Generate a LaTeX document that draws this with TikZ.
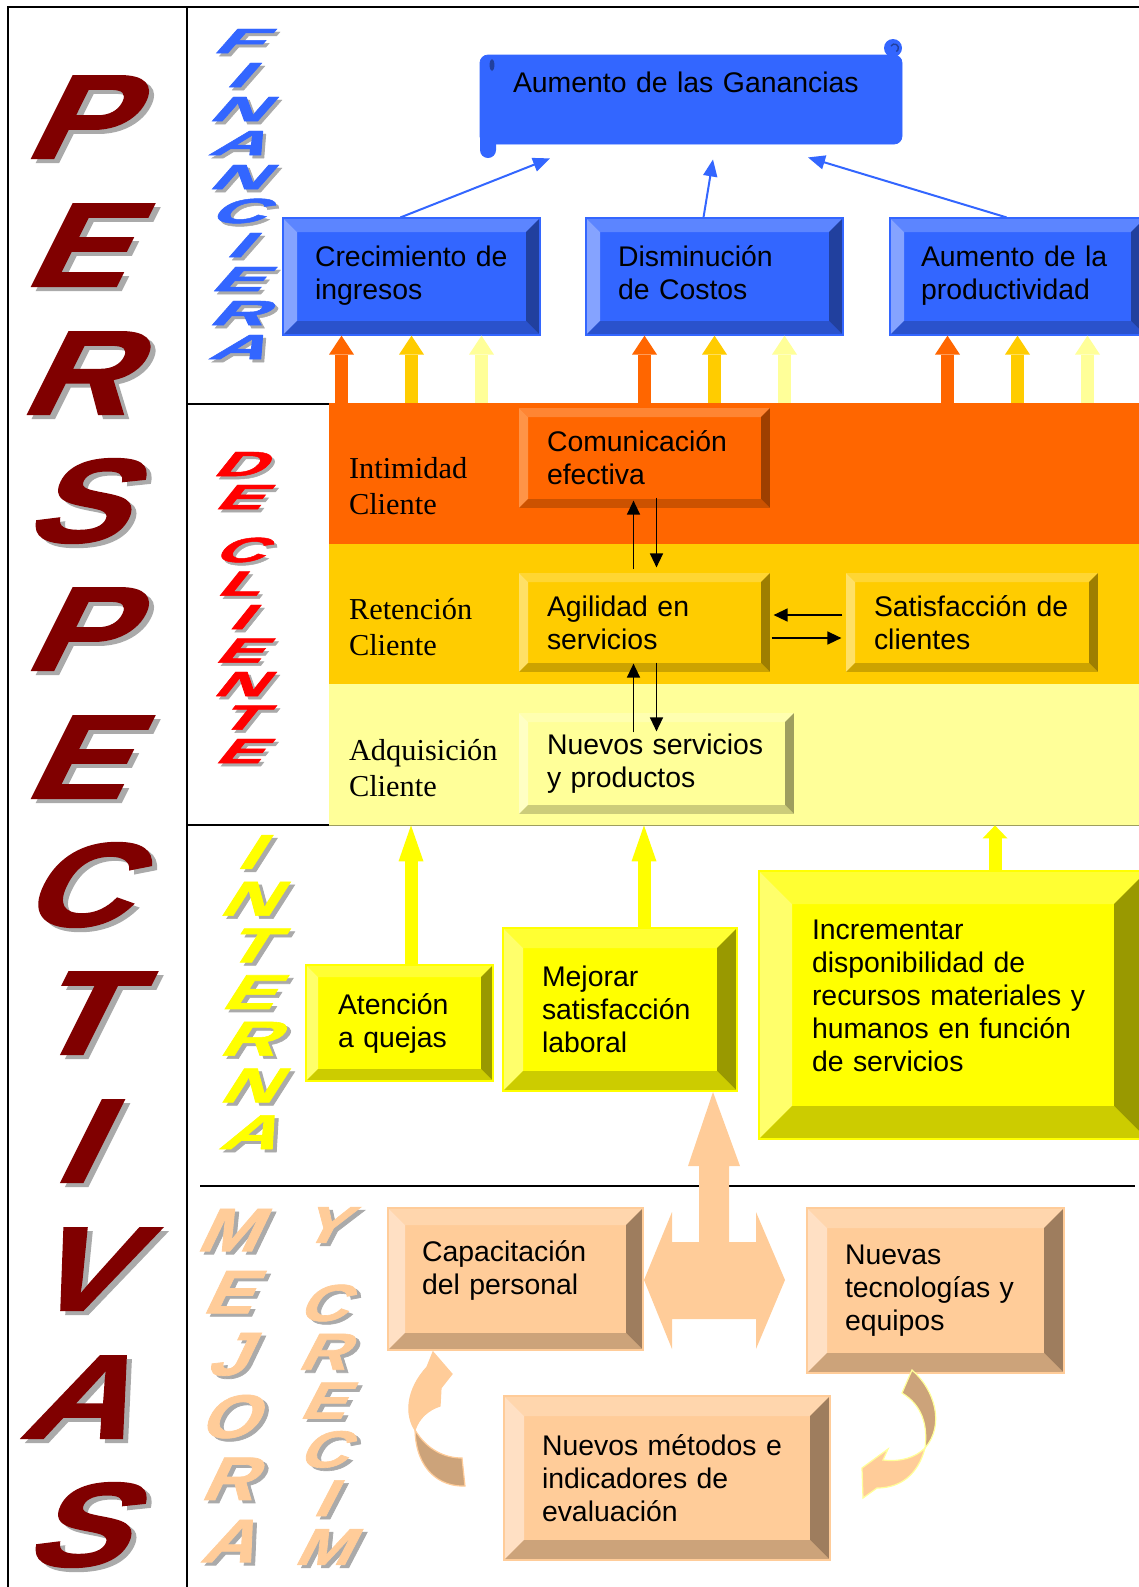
\documentclass[tikz,border=0pt]{standalone}
\usepackage{fontspec}
\usepackage{graphicx}
\usetikzlibrary{arrows.meta}
\newfontfamily\boxfont{Liberation Sans}
\newfontfamily\bandfont{Liberation Serif}
\newfontfamily\artfont{Liberation Sans}[FakeSlant=0.4,BoldFeatures={FakeSlant=0.4,FakeBold=1.2}]

\definecolor{finBlue}{RGB}{51,102,255}
\definecolor{blueTop}{RGB}{92,133,255}
\definecolor{blueLeft}{RGB}{133,163,255}
\definecolor{blueRight}{RGB}{33,64,158}
\definecolor{blueBot}{RGB}{42,82,204}
\definecolor{bandOrange}{RGB}{255,102,0}
\definecolor{orangeTop}{RGB}{255,133,51}
\definecolor{orangeLeft}{RGB}{255,148,71}
\definecolor{orangeRight}{RGB}{158,63,0}
\definecolor{orangeBot}{RGB}{204,82,0}
\definecolor{bandGold}{RGB}{255,204,0}
\definecolor{goldTop}{RGB}{255,214,51}
\definecolor{goldLeft}{RGB}{255,224,102}
\definecolor{goldRight}{RGB}{158,126,0}
\definecolor{goldBot}{RGB}{204,163,0}
\definecolor{bandLight}{RGB}{255,255,153}
\definecolor{lightTop}{RGB}{255,255,176}
\definecolor{lightLeft}{RGB}{255,255,196}
\definecolor{lightRight}{RGB}{158,158,94}
\definecolor{lightBot}{RGB}{204,204,122}
\definecolor{intYel}{RGB}{255,255,0}
\definecolor{yelTop}{RGB}{255,255,51}
\definecolor{yelLeft}{RGB}{255,255,107}
\definecolor{yelRight}{RGB}{153,153,0}
\definecolor{yelBot}{RGB}{204,204,0}
\definecolor{peachBase}{RGB}{255,204,153}
\definecolor{peachTop}{RGB}{255,214,173}
\definecolor{peachLeft}{RGB}{255,224,196}
\definecolor{peachRight}{RGB}{158,125,94}
\definecolor{peachBot}{RGB}{204,163,122}
\definecolor{persRed}{RGB}{128,0,0}
\definecolor{cliRed}{RGB}{255,0,0}
\definecolor{shadowGray}{RGB}{170,170,170}

\tikzset{
  bevel size/.store in=\bevw, bevel size=5pt,
  bevbox/.style n args={5}{rectangle, fill=#1, draw=#1, line width=0.6pt, inner ysep=0pt, align=left,
    text=black, font=\boxfont\fontsize{14.2}{16.5}\selectfont,
    path picture={
      \path (path picture bounding box.north west) coordinate (bnw)
            (path picture bounding box.south east) coordinate (bse);
      \path (bnw -| bse) coordinate (bne) (bnw |- bse) coordinate (bsw);
      \fill[#2] (bnw) -- (bne) -- ([shift={(-\bevw,-\bevw)}]bne) -- ([shift={(\bevw,-\bevw)}]bnw) -- cycle;
      \fill[#3] (bnw) -- (bsw) -- ([shift={(\bevw,\bevw)}]bsw) -- ([shift={(\bevw,-\bevw)}]bnw) -- cycle;
      \fill[#4] (bne) -- (bse) -- ([shift={(-\bevw,\bevw)}]bse) -- ([shift={(-\bevw,-\bevw)}]bne) -- cycle;
      \fill[#5] (bsw) -- (bse) -- ([shift={(-\bevw,\bevw)}]bse) -- ([shift={(\bevw,\bevw)}]bsw) -- cycle;
    }},
  blueBox/.style={bevbox={finBlue}{blueTop}{blueLeft}{blueRight}{blueBot}, bevel size=7pt},
  orangeBox/.style={bevbox={bandOrange}{orangeTop}{orangeLeft}{orangeRight}{orangeBot}, bevel size=5pt},
  goldBox/.style={bevbox={bandGold}{goldTop}{goldLeft}{goldRight}{goldBot}, bevel size=5pt},
  lightBox/.style={bevbox={bandLight}{lightTop}{lightLeft}{lightRight}{lightBot}, bevel size=5pt},
  yelBox/.style={bevbox={intYel}{yelTop}{yelLeft}{yelRight}{yelBot}},
  peachBox/.style={bevbox={peachBase}{peachTop}{peachLeft}{peachRight}{peachBot}},
  band/.style={rectangle, minimum width=405pt, inner sep=0pt, fill=#1},
  bandtxt/.style={inner sep=0pt, align=left, anchor=west, font=\bandfont\fontsize{15.2}{18}\selectfont},
  banner/.style={rectangle, rounded corners=4pt, fill=finBlue, draw=finBlue, minimum width=211pt,
    minimum height=44.5pt, inner ysep=0pt, inner xsep=16.5pt, text width=178pt, align=left,
    font=\boxfont\fontsize{14.2}{16.5}\selectfont},
  fatup/.style={line width=6.5pt, draw=#1, -{Triangle[length=9.5pt,width=12.5pt,line width=0pt]}},
  bluearr/.style={draw=finBlue, line width=1pt, -{Triangle[length=8.5pt,width=7pt]}},
  blk/.style={line width=0.7pt, -{Triangle[length=7pt,width=6.5pt]}},
  frame/.style={line width=1pt},
  art/.style={inner sep=0pt, font=\artfont\bfseries\fontsize{#1}{#1}\selectfont},
}

\begin{document}
\begin{tikzpicture}[x=0.5pt, y=-0.5pt]
\useasboundingbox (0,0) rectangle (1139,1587);

% frame
\draw[frame] (7,7) -- (1139,7);
\draw[frame] (8,7) -- (8,1587);
\draw[frame] (187,7) -- (187,1587);
\draw[frame] (187,404) -- (329,404);
\draw[frame] (187,825) -- (329,825);
\draw[frame] (200,1186) -- (1135,1186);

% perspectiva de cliente
\node[band=bandOrange, minimum height=70.5pt] (intim) at (734,473.5) {};
\node[band=bandGold, minimum height=70pt] (reten) at (734,614) {};
\node[band=bandLight, minimum height=70.5pt] (adqui) at (734,754.5) {};
\draw[lightRight, line width=0.6pt] (adqui.south west) -- (adqui.south east);
\node[bandtxt] (intimtxt) at ([shift={(20,13)}]intim.west) {Intimidad\\Cliente};
\node[bandtxt] (retentxt) at ([shift={(20,13.5)}]reten.west) {Retención\\Cliente};
\node[bandtxt] (adquitxt) at ([shift={(20,14)}]adqui.west) {Adquisición\\Cliente};

% perspectiva financiera
\node[banner] (gain) at (691,99.5) {Aumento de las Ganancias\\[1pt]\mbox{}};
\fill[finBlue] (893,48) circle[radius=4.5pt];
\draw[blueRight, line width=0.7pt] (891,46) arc[start angle=150, end angle=-60, radius=2pt];
\fill[finBlue, rounded corners=4pt] (480,130) rectangle (496,158);
\fill[blueRight] (492,65) ellipse[x radius=1.2pt, y radius=3pt];
\coordinate (gainL) at ([shift={(-141,14)}]gain.south);
\coordinate (gainM) at ([shift={(22,15)}]gain.south);
\coordinate (gainR) at ([shift={(117,13)}]gain.south);

\node[blueBox, minimum width=128.5pt, minimum height=58.5pt, inner xsep=16pt, text width=96.5pt] (crec) at (411.5,276.5) {Crecimiento de\\ingresos\\[-13pt]\mbox{}};
\node[blueBox, minimum width=128.5pt, minimum height=58.5pt, inner xsep=16pt, text width=96.5pt] (dism) at (714.5,276.5) {Disminución\\de Costos\\[-13pt]\mbox{}};
\node[blueBox, minimum width=127.5pt, minimum height=58.5pt, inner xsep=15.5pt, text width=96.5pt] (prod) at (1017.5,276.5) {Aumento de la\\productividad\\[-13pt]\mbox{}};

\draw[bluearr] ([shift={(-11,0)}]crec.north) -- (gainL);
\draw[bluearr] ([shift={(-11,0)}]dism.north) -- (gainM);
\draw[bluearr] ([shift={(-11,0)}]prod.north) -- (gainR);

\foreach \b in {crec,dism,prod}{
  \foreach \dx/\c in {-70/bandOrange,0/bandGold,70/bandLight}{
    \path (\b.south) ++(\dx,0) coordinate (t);
    \draw[fatup=\c] (t |- intim.north) -- (t);
  }
}

\node[orangeBox, minimum width=126.5pt, minimum height=51pt, inner xsep=14.5pt, text width=97.5pt] (comun) at (644.5,458) {Comunicación\\efectiva};
\node[goldBox, minimum width=126.5pt, minimum height=50.5pt, inner xsep=14.5pt, text width=97.5pt] (agil) at (644.5,622.5) {Agilidad en\\servicios};
\node[goldBox, minimum width=127pt, minimum height=50.5pt, inner xsep=14.5pt, text width=98pt] (satis) at (972,622.5) {Satisfacción de\\clientes};
\node[lightBox, minimum width=138.5pt, minimum height=51.5pt, inner xsep=14.5pt, text width=109.5pt] (nserv) at (656.5,763.5) {Nuevos servicios\\y productos};

\draw[blk] ([shift={(-11,-2)}]agil.north) -- ([shift={(-11,-9)}]comun.south);
\draw[blk] ([shift={(12,-12)}]comun.south) -- ([shift={(12,-4)}]agil.north);
\draw[blk] ([shift={(-23,21)}]nserv.north) -- ([shift={(-11,-10)}]agil.south);
\draw[blk] ([shift={(12,-11)}]agil.south) -- ([shift={(0,20)}]nserv.north);
\draw[blk] ([shift={(-2,-7.5)}]satis.west) -- ([shift={(2,-7.5)}]agil.east);
\draw[blk] ([shift={(0,15.5)}]agil.east) -- ([shift={(-3,15.5)}]satis.west);

% perspectiva interna
\node[yelBox, bevel size=6pt, minimum width=93.5pt, minimum height=58pt, inner xsep=16pt, text width=61.5pt] (aten) at (399.5,1023) {Atención\\a quejas};
\node[yelBox, bevel size=10pt, minimum width=117pt, minimum height=81.5pt, inner xsep=19.5pt, text width=78pt] (mejo) at (620,1009.5) {Mejorar\\satisfacción\\laboral};
\node[yelBox, bevel size=16.5pt, minimum width=194pt, minimum height=134pt, inner xsep=26.5pt, text width=141pt] (incr) at (953,1005) {Incrementar\\disponibilidad de\\recursos materiales y\\humanos en función\\de servicios\\[-7pt]\mbox{}};

\path (aten.north) ++(11.5,0) coordinate (ta);
\draw[fatup=intYel, -{Triangle[length=18pt,width=12.5pt,line width=0pt]}] (ta) -- (ta |- adqui.south);
\path (mejo.north) ++(24,0) coordinate (tm);
\draw[fatup=intYel, -{Triangle[length=18pt,width=12.5pt,line width=0pt]}] (tm) -- (tm |- adqui.south);
\path (incr.north) ++(42,0) coordinate (ti);
\draw[fatup=intYel, -{Triangle[length=6.5pt,width=12.5pt,line width=0pt]}] (ti) -- (ti |- adqui.south);

% mejora y crecimiento
\node[peachBox, bevel size=8.5pt, minimum width=127.5pt, minimum height=71pt, inner xsep=17pt, text width=93.5pt] (capa) at (515.5,1279) {Capacitación\\del personal\\[-5.5pt]\mbox{}};
\node[peachBox, bevel size=10pt, minimum width=128.5pt, minimum height=82.5pt, inner xsep=19pt, text width=90.5pt] (ntec) at (935.5,1290.5) {Nuevas\\tecnologías y\\equipos};
\node[peachBox, bevel size=10pt, minimum width=163pt, minimum height=82pt, inner xsep=19pt, text width=125pt] (meto) at (667,1478) {Nuevos métodos e\\indicadores de\\evaluación};

\fill[peachBase] (713,1092) -- (740,1166) -- (729,1166) -- (729,1242) -- (756,1242) -- (756,1212)
  -- (785,1280) -- (756,1349) -- (756,1319) -- (672,1319) -- (672,1349) -- (644,1280)
  -- (672,1212) -- (672,1242) -- (699,1242) -- (699,1166) -- (688,1166) -- cycle;

\filldraw[fill=peachBase, draw=peachBase, line width=0.6pt] (415,1430) .. controls (405,1415) and (406,1390) .. (427,1367)
  -- (433,1352) -- (452,1374) -- (441,1388) -- (440,1406) .. controls (428,1410) and (419,1418) .. (415,1430) -- cycle;
\filldraw[fill=peachBot, draw=peachBase, line width=0.6pt] (415,1430) .. controls (427,1450) and (445,1458) .. (462,1458)
  -- (465,1486) .. controls (440,1487) and (416,1470) .. (415,1430) -- cycle;
\filldraw[fill=peachBot, draw=bandLight, line width=0.6pt] (912,1370) .. controls (935,1390) and (945,1425) .. (925,1448)
  .. controls (928,1425) and (922,1405) .. (902,1393) -- cycle;
\filldraw[fill=peachBase, draw=bandLight, line width=0.6pt] (925,1448) .. controls (918,1475) and (900,1488) .. (877,1488)
  -- (863,1498) -- (862,1468) -- (888,1449) -- (883,1460) .. controls (900,1462) and (915,1458) .. (925,1448) -- cycle;

% titulos verticales
\foreach \ch [count=\i from 0] in {P,E,R,S,P,E,C,T,I,V,A,S}{
  \node[art=60, text=shadowGray] (perssh\i) at (77,{121+128*\i}) {\scalebox{1.25}[1]{\ch}};
  \node[art=60, text=persRed] (pers\i) at (72,{117+128*\i}) {\scalebox{1.25}[1]{\ch}};
}
\foreach \ch [count=\i from 0] in {F,I,N,A,N,C,I,E,R,A}{
  \node[art=17.5, text=shadowGray] (finsh\i) at (238,{44+34*\i}) {\scalebox{2.2}[1]{\ch}};
  \node[art=17.5, text=finBlue] (fin\i) at (235,{41+34*\i}) {\scalebox{2.2}[1]{\ch}};
}
\foreach \ch/\yy [count=\i] in {D/464,E/497,C/550,L/583.5,I/617,E/650.5,N/684,T/717.5,E/751}{
  \node[art=17.5, text=shadowGray] (clish\i) at (240,\yy+3) {\scalebox{2}[1]{\ch}};
  \node[art=17.5, text=cliRed] (cli\i) at (237,\yy) {\scalebox{2}[1]{\ch}};
}
\foreach \ch [count=\i from 0] in {I,N,T,E,R,N,A}{
  \node[art=24.5, text=shadowGray] (intsh\i) at (250,{855+46.7*\i}) {\scalebox{1.6}[1]{\ch}};
  \node[art=24.5, text=intYel] (int\i) at (246,{852+46.7*\i}) {\scalebox{1.6}[1]{\ch}};
}
\foreach \ch [count=\i from 0] in {M,E,J,O,R,A}{
  \node[art=30.7, text=shadowGray] (mejsh\i) at (230,{1233+62.2*\i}) {\scalebox{1.2}[1]{\ch}};
  \node[art=30.7, text=peachBase] (mej\i) at (226,{1230+62.2*\i}) {\scalebox{1.2}[1]{\ch}};
}
\foreach \ch/\yy [count=\i] in {Y/1225,C/1303,R/1351.8,E/1400.6,C/1449.4,I/1498.2,M/1547}{
  \node[art=26, text=shadowGray] (cresh\i) at (325,\yy+3) {\scalebox{1.3}[1]{\ch}};
  \node[art=26, text=peachBase] (cre\i) at (321,\yy) {\scalebox{1.3}[1]{\ch}};
}
\end{tikzpicture}
\end{document}
